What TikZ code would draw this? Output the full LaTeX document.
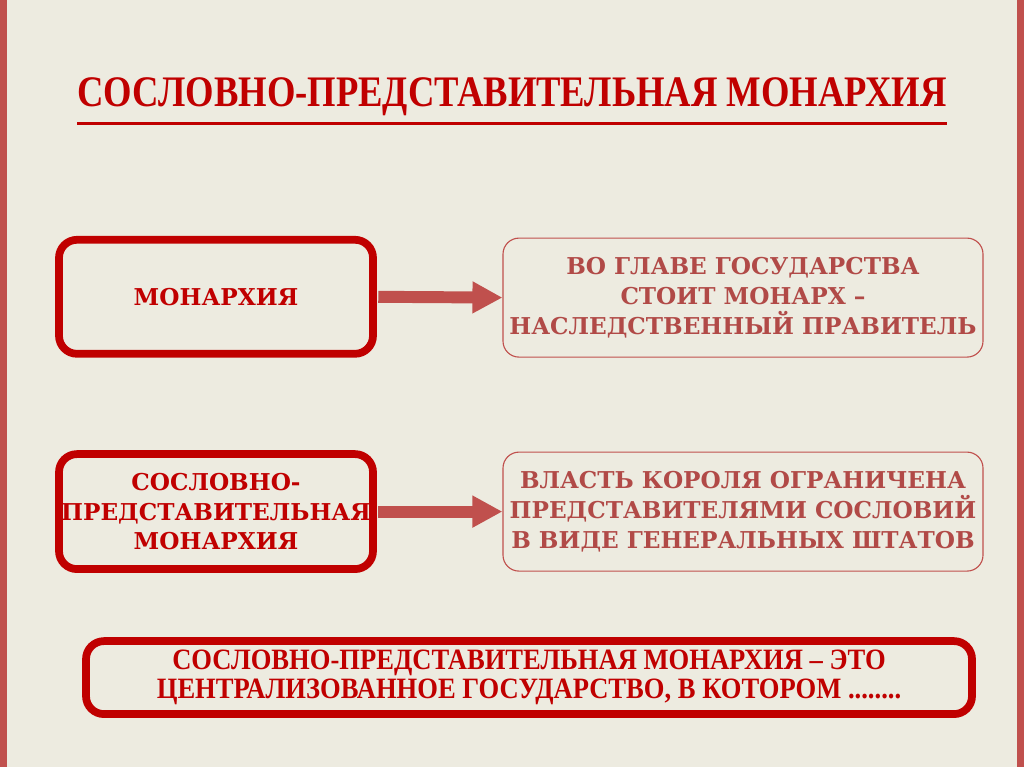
\documentclass[tikz,border=0pt]{standalone}
\usepackage{fontspec}
\setmainfont{DejaVu Serif}
\newfontfamily\condfont[FakeStretch=0.84]{Liberation Serif}
\newfontfamily\defont[FakeStretch=0.9]{Liberation Serif}
\usetikzlibrary{arrows.meta}
\definecolor{darkred}{HTML}{C00000}
\definecolor{softred}{HTML}{C0504D}
\definecolor{paper}{HTML}{EDEBE0}

\begin{document}
\begin{tikzpicture}
\tikzstyle{mainbox}=[draw=darkred, line width=5.5pt, rounded corners=0.45cm, text=darkred, align=center,
  font=\bfseries\fontsize{16.5}{21.3}\selectfont]
\tikzstyle{infobox}=[draw=softred, line width=0.8pt, rounded corners=0.4cm, text=softred!92!black, align=center,
  minimum width=12cm, minimum height=2.975cm, font=\bfseries\fontsize{16.5}{21.3}\selectfont]
\tikzstyle{link}=[softred, line width=8.5pt, -{Triangle[length=0.75cm,width=0.75cm]}, shorten <=1pt]

% background and side bars
\fill[paper] (0,0) rectangle (25.6,-19.175);
\fill[softred] (0,0) rectangle (0.18,-19.175);
\fill[softred] (25.42,0) rectangle (25.6,-19.175);
\useasboundingbox (0,0) rectangle (25.6,-19.175);

% title
\node[text=darkred, font=\condfont\bfseries\fontsize{31}{33}\selectfont, inner sep=0pt] (title) at (12.8,-2.42)
  {СОСЛОВНО-ПРЕДСТАВИТЕЛЬНАЯ МОНАРХИЯ};
\draw[darkred, line width=2.2pt] ([yshift=-5pt]title.south west) -- ([yshift=-5pt]title.south east);

% first row
\node[mainbox, minimum width=7.85cm, minimum height=2.85cm] (mon) at (5.4,-7.42) {МОНАРХИЯ};
\node[infobox] (monD) at (18.575,-7.44)
  {ВО ГЛАВЕ ГОСУДАРСТВА\\СТОИТ МОНАРХ –\\НАСЛЕДСТВЕННЫЙ ПРАВИТЕЛЬ};
\draw[link] (mon.east) -- (monD.west);

% second row
\node[mainbox, minimum width=7.85cm, minimum height=2.875cm, inner sep=1pt] (srm) at (5.4,-12.79)
  {СОСЛОВНО-\\ПРЕДСТАВИТЕЛЬНАЯ\\МОНАРХИЯ};
\node[infobox] (srmD) at (18.575,-12.79)
  {ВЛАСТЬ КОРОЛЯ ОГРАНИЧЕНА\\ПРЕДСТАВИТЕЛЯМИ СОСЛОВИЙ\\В ВИДЕ ГЕНЕРАЛЬНЫХ ШТАТОВ};
\draw[link] (srm.east) -- (srmD.west);

% definition
\node[mainbox, minimum width=22.15cm, minimum height=1.825cm, inner sep=1pt,
  font=\defont\bfseries\fontsize{21}{20.6}\selectfont] (def) at (13.225,-16.94)
  {СОСЛОВНО-ПРЕДСТАВИТЕЛЬНАЯ МОНАРХИЯ – ЭТО\\ЦЕНТРАЛИЗОВАННОЕ ГОСУДАРСТВО, В КОТОРОМ ........};
\end{tikzpicture}
\end{document}
